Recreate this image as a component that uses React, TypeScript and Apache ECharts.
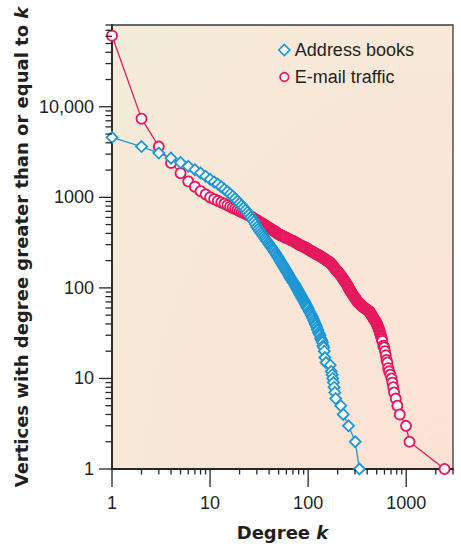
import React, { useEffect, useRef } from 'react';
import * as echarts from 'echarts';

// ---- data (degree k, number of vertices with degree >= k) ----
const addressBooks: [number, number][] = [
  [1, 4600], [2, 3640], [3, 3080], [4, 2710], [5, 2420], [6, 2200], [7, 2020], [8, 1860],
  [9, 1710], [10, 1580], [11, 1480], [12, 1400], [13, 1310], [14, 1230], [15, 1160], [16, 1090],
  [17, 1030], [18, 970], [19, 915], [20, 860], [21, 815], [22, 770], [23, 725], [24, 685],
  [25, 645], [26, 605], [27, 572], [28, 540], [29, 505], [30, 470], [31, 447], [32, 425],
  [33, 406], [34, 388], [35, 371], [36, 355], [37, 341], [38, 328], [39, 315], [40, 303],
  [41, 292], [42, 282], [43, 272], [44, 263], [45, 254], [46, 245], [47, 237], [48, 228],
  [49, 220], [50, 212], [51, 205], [52, 198], [53, 191], [54, 185], [55, 179], [56, 174],
  [57, 168], [58, 163], [59, 158], [60, 154], [61, 149], [62, 145], [63, 140], [64, 136],
  [65, 132], [66, 128], [67, 125], [68, 122], [69, 119], [70, 116], [71, 114], [72, 112],
  [73, 109], [74, 106], [75, 103], [76, 101], [77, 98], [78, 96], [79, 93], [80, 91],
  [81, 89], [82, 87], [83, 85], [84, 83], [85, 81], [86, 79], [87, 77], [88, 76],
  [89, 74], [90, 73], [91, 71], [92, 70], [93, 68], [94, 67], [95, 65], [96, 64],
  [97, 62], [98, 61], [99, 60], [100, 59], [102, 56], [104, 54], [106, 52], [108, 50],
  [110, 48], [112, 46], [114, 44], [116, 42], [118, 40], [120, 39], [122, 37], [124, 35],
  [126, 34], [128, 32], [130, 31], [132, 30], [134, 28], [136, 27], [138, 26], [140, 25],
  [142, 23], [144, 22], [146, 20],
];
const addressBooksTail: [number, number][] = [
  [148, 17], [152, 15], [168, 14], [172, 12], [176, 11], [178, 10], [181, 9], [184, 8],
  [187, 7], [191, 6], [215, 5], [228, 4], [258, 3], [302, 2], [333, 1],
];

const emailTraffic: [number, number][] = [
  [1, 61000], [2, 7400], [3, 3640], [4, 2400], [5, 1850], [6, 1500], [7, 1310], [8, 1170],
  [9, 1080], [10, 1000], [11, 955], [12, 915], [13, 880], [14, 850], [15, 818], [16, 790],
  [17, 766], [18, 745], [19, 725], [20, 705], [21, 688], [22, 672], [23, 656], [24, 642],
  [25, 628], [26, 615], [27, 600], [28, 587], [29, 573], [30, 560], [31, 548], [32, 537],
  [33, 526], [34, 516], [35, 506], [36, 497], [37, 487], [38, 478], [39, 469], [40, 460],
  [41, 453], [42, 446], [43, 439], [44, 432], [45, 425], [46, 419], [47, 412], [48, 405],
  [49, 398], [50, 392], [51, 388], [52, 385], [53, 381], [54, 378], [55, 374], [56, 370],
  [57, 366], [58, 363], [59, 359], [60, 356], [62, 351], [64, 345], [66, 340], [68, 335],
  [70, 330], [72, 325], [74, 320], [76, 314], [78, 308], [80, 303], [82, 299], [84, 295],
  [86, 292], [88, 288], [90, 285], [92, 282], [94, 278], [96, 275], [98, 272], [100, 268],
  [102, 264], [104, 260], [106, 257], [108, 254], [110, 251], [112, 249], [114, 246], [116, 243],
  [118, 241], [120, 238], [122, 236], [124, 234], [126, 232], [128, 230], [130, 228], [132, 225],
  [134, 223], [136, 221], [138, 218], [140, 216], [142, 214], [144, 212], [146, 210], [148, 208],
  [150, 206], [153, 203], [156, 200], [159, 197], [162, 195], [165, 193], [168, 190], [171, 186],
  [174, 182], [177, 178], [180, 174], [183, 170], [186, 166], [189, 162], [192, 159], [195, 156],
  [198, 153], [202, 149], [206, 146], [210, 142], [214, 139], [218, 135], [222, 131], [226, 127],
  [230, 124], [233, 121], [236, 119], [240, 116], [243, 113], [246, 111], [250, 108], [253, 105],
  [256, 103], [260, 100], [263, 97], [266, 95], [270, 93], [273, 91], [276, 89], [280, 87],
  [285, 84], [290, 82], [295, 80], [300, 78], [305, 76], [310, 74], [315, 72], [320, 70],
  [325, 69], [330, 68], [335, 67], [340, 66], [345, 65], [350, 64], [355, 63], [360, 62],
  [368, 61], [376, 60], [384, 59], [392, 58], [402, 57], [414, 56], [420, 55], [425, 54],
  [430, 53], [435, 52], [440, 51], [445, 50], [450, 49], [455, 48], [460, 47], [465, 46],
  [470, 45], [478, 44], [486, 43], [492, 42], [497, 41], [502, 40], [507, 39], [512, 38],
  [517, 37], [522, 36], [527, 35], [532, 34], [537, 33], [541, 32], [545, 31], [550, 30],
  [555, 29], [560, 28], [565, 27], [570, 26],
];
const emailTrafficTail: [number, number][] = [
  [585, 23], [596, 22], [608, 20], [619, 18], [630, 16], [643, 15], [655, 13], [669, 12],
  [690, 11], [710, 10], [722, 9], [737, 8], [752, 7], [782, 6], [813, 5], [859, 4],
  [995, 3], [1080, 2], [2460, 1],
];

const seriesNames = ['Address books', 'E-mail traffic'];
const xRange = [1, 3000];
const yRange = [1, 80000];
const xTickValues = [1, 10, 100, 1000];
const xTickLabels = ['1', '10', '100', '1000'];
const yTickValues = [1, 10, 100, 1000, 10000];
const yTickLabels = ['1', '10', '100', '1000', '10,000'];

const BLUE = '#1d97d4';
const RED = '#e6195e';
const AXIS = '#262626';
const TEXT = '#231f20';
const LABEL_FONT = "'Liberation Sans', Arial, Helvetica, sans-serif";
const TITLE_FONT = "'DejaVu Sans', Verdana, sans-serif";
// circle legend icon padded inside an 11x11 box so it draws a little smaller than the diamond
const SMALL_CIRCLE = 'path://M0,0M11,11M5.5,1.2A4.3,4.3,0,1,1,5.49,1.2Z';

function minorTicks(min: number, max: number): number[] {
  const out: number[] = [];
  for (let d = 1; d < max; d *= 10) {
    for (let m = 2; m <= 9; m++) {
      const v = m * d;
      if (v > min && v <= max) out.push(v);
    }
  }
  return out;
}

function tickSeries(values: number[], axis: 'x' | 'y', len: number) {
  return {
    type: 'custom',
    silent: true,
    clip: false,
    z: 6,
    data: values.map((v) => (axis === 'x' ? [v, yRange[0]] : [xRange[0], v])),
    renderItem: (_params: any, api: any) => {
      const p = api.coord([api.value(0), api.value(1)]);
      const shape =
        axis === 'x'
          ? { x1: p[0], y1: p[1], x2: p[0], y2: p[1] + len }
          : { x1: p[0] - len, y1: p[1], x2: p[0], y2: p[1] };
      return { type: 'line', shape, style: { stroke: AXIS, lineWidth: 1.3 } };
    },
  };
}

function labelFor(values: number[], labels: string[]) {
  return (v: number) => {
    const i = values.findIndex((t) => Math.abs(t - v) / t < 1e-6);
    return i >= 0 ? labels[i] : '';
  };
}

export default function App() {
  const ref = useRef<HTMLDivElement>(null);
  useEffect(() => {
    const chart = echarts.init(ref.current!, null, { renderer: 'svg' });
    const option: any = {
      animation: false,
      backgroundColor: '#ffffff',
      grid: {
        left: 112,
        top: 25,
        width: 341,
        height: 444,
        show: true,
        borderColor: '#3a3a3a',
        borderWidth: 1.3,
        backgroundColor: new echarts.graphic.RadialGradient(1, 1, 1.64, [
          { offset: 0, color: '#fce2d4' },
          { offset: 0.6, color: '#f7e8d8' },
          { offset: 1, color: '#f2efda' },
        ]),
        outerBoundsMode: 'none',
        containLabel: false,
      },
      legend: {
        orient: 'vertical',
        left: 278,
        top: 41,
        padding: 0,
        itemWidth: 11,
        itemHeight: 11,
        itemGap: 9,
        textStyle: { fontSize: 18, color: TEXT, fontFamily: LABEL_FONT, lineHeight: 18 },
        data: [
          { name: seriesNames[0], icon: 'diamond', itemStyle: { color: '#fff', borderColor: BLUE, borderWidth: 1.7 } },
          { name: seriesNames[1], icon: SMALL_CIRCLE, itemStyle: { color: '#fff', borderColor: RED, borderWidth: 1.7 } },
        ],
      },
      xAxis: {
        type: 'log',
        logBase: 10,
        min: xRange[0],
        max: xRange[1],
        name: '{t|Degree }{k|k}',
        nameLocation: 'middle',
        nameGap: 54,
        nameMoveOverlap: false,
        nameTextStyle: {
          rich: {
            t: { fontFamily: TITLE_FONT, fontWeight: 'bold', fontSize: 18, color: TEXT },
            k: { fontFamily: TITLE_FONT, fontWeight: 'bold', fontStyle: 'italic', fontSize: 18, color: TEXT },
          },
        },
        axisLine: { show: true, lineStyle: { color: AXIS, width: 1.8 } },
        axisTick: { show: false },
        splitLine: { show: false },
        axisLabel: {
          margin: 25,
          fontSize: 18,
          color: TEXT,
          fontFamily: LABEL_FONT,
          formatter: labelFor(xTickValues, xTickLabels),
        },
      },
      yAxis: {
        type: 'log',
        logBase: 10,
        min: yRange[0],
        max: yRange[1],
        name: '{t|Vertices with degree greater than or equal to }{k|k}',
        nameLocation: 'middle',
        nameGap: 82,
        nameMoveOverlap: false,
        nameTextStyle: {
          rich: {
            t: { fontFamily: TITLE_FONT, fontWeight: 'bold', fontSize: 18, color: TEXT },
            k: { fontFamily: TITLE_FONT, fontWeight: 'bold', fontStyle: 'italic', fontSize: 18, color: TEXT },
          },
        },
        axisLine: { show: true, lineStyle: { color: AXIS, width: 1.8 } },
        axisTick: { show: false },
        splitLine: { show: false },
        axisLabel: {
          margin: 18,
          fontSize: 18,
          color: TEXT,
          fontFamily: LABEL_FONT,
          formatter: labelFor(yTickValues, yTickLabels),
        },
      },
      series: [
        {
          name: seriesNames[1],
          type: 'line',
          data: [...emailTraffic, ...emailTrafficTail],
          symbol: 'circle',
          symbolSize: 10,
          clip: false,
          z: 3,
          lineStyle: { color: RED, width: 1.3 },
          itemStyle: { color: '#fff', borderColor: RED, borderWidth: 1.8 },
          emphasis: { disabled: true },
        },
        {
          name: seriesNames[0],
          type: 'line',
          data: [...addressBooks, ...addressBooksTail],
          symbol: 'diamond',
          symbolSize: 11,
          clip: false,
          z: 4,
          lineStyle: { color: BLUE, width: 1.3 },
          itemStyle: { color: '#fff', borderColor: BLUE, borderWidth: 1.8 },
          emphasis: { disabled: true },
        },
        tickSeries(xTickValues, 'x', 18),
        tickSeries(minorTicks(xRange[0], xRange[1]), 'x', 5.5),
        tickSeries(yTickValues, 'y', 13),
        tickSeries(minorTicks(yRange[0], yRange[1]), 'y', 6.5),
      ],
    };
    chart.setOption(option);
    return () => chart.dispose();
  }, []);
  return (
    <div
      ref={ref}
      style={{ position: 'absolute', left: 0, top: 0, width: 461, height: 544, background: '#fff' }}
    />
  );
}
